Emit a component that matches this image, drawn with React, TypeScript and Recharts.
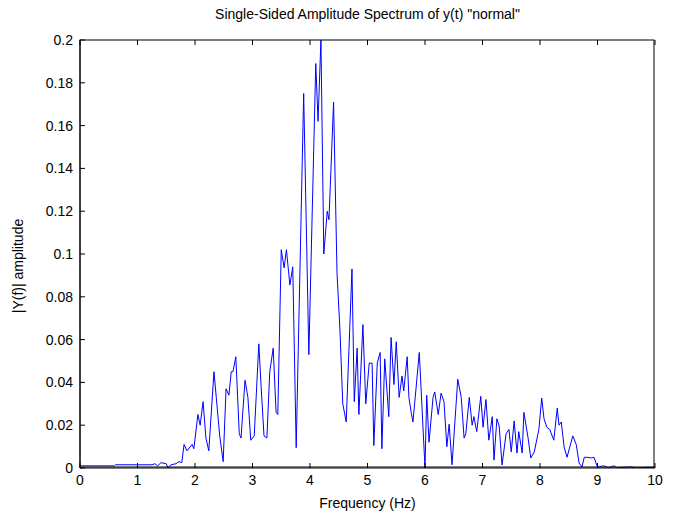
import React from 'react';
import { LineChart, Line, XAxis, YAxis } from 'recharts';

// frequency (Hz) and |Y(f)|
const freqs = [
  0, 0.6, 0.62, 1.25, 1.3, 1.35, 1.41, 1.5, 1.53, 1.58, 1.67, 1.72, 1.77, 1.81, 1.86, 1.95, 1.98,
  2.05, 2.09, 2.14, 2.19, 2.24, 2.33, 2.37, 2.43, 2.49, 2.54, 2.59, 2.63, 2.66, 2.71, 2.77, 2.8, 2.87, 2.92, 2.97,
  3.03, 3.11, 3.15, 3.2, 3.25, 3.3, 3.36, 3.41, 3.44, 3.5, 3.55, 3.59, 3.65, 3.7, 3.76, 3.89, 3.98,
  4.1, 4.14, 4.19, 4.24, 4.3, 4.33, 4.41, 4.47, 4.52, 4.57, 4.63, 4.73, 4.77, 4.82, 4.85, 4.92, 4.97,
  5.03, 5.08, 5.11, 5.17, 5.22, 5.25, 5.3, 5.37, 5.41, 5.46, 5.5, 5.55, 5.6, 5.63, 5.69, 5.72, 5.76, 5.79, 5.84, 5.9, 5.93,
  6.0, 6.03, 6.07, 6.14, 6.17, 6.23, 6.28, 6.33, 6.38, 6.42, 6.47, 6.57, 6.63, 6.68, 6.71, 6.77, 6.82, 6.85, 6.9, 6.97,
  7.01, 7.06, 7.11, 7.17, 7.2, 7.25, 7.29, 7.34, 7.41, 7.46, 7.5, 7.55, 7.6, 7.63, 7.69, 7.72, 7.79, 7.84, 7.9, 7.98,
  8.03, 8.07, 8.12, 8.17, 8.24, 8.3, 8.33, 8.37, 8.42, 8.47, 8.57, 8.63, 8.68, 8.73, 8.77, 8.83, 8.89, 8.94, 8.99,
  9.03, 9.1, 9.15, 9.18, 9.23, 9.29, 9.34, 9.44, 9.58, 9.67, 9.84, 10,
];
const amps = [
  0.001, 0.001, 0.0015, 0.0015, 0.002, 0.001, 0.0025, 0.002, 0, 0.0015, 0.002, 0.003, 0.0025, 0.011, 0.008, 0.011, 0.009,
  0.025, 0.02, 0.031, 0.014, 0.008, 0.045, 0.033, 0.015, 0.003, 0.037, 0.034, 0.045, 0.045, 0.052, 0.016, 0.014, 0.041, 0.033, 0.013,
  0.015, 0.058, 0.038, 0.015, 0.014, 0.045, 0.056, 0.026, 0.025, 0.102, 0.0935, 0.102, 0.0855, 0.094, 0.0095, 0.175, 0.053,
  0.189, 0.162, 0.2, 0.1, 0.12, 0.116, 0.171, 0.091, 0.065, 0.03, 0.0215, 0.093, 0.031, 0.056, 0.025, 0.067, 0.03,
  0.049, 0.049, 0.0105, 0.049, 0.054, 0.009, 0.051, 0.024, 0.061, 0.039, 0.059, 0.033, 0.043, 0.036, 0.052, 0.033, 0.026, 0.0215, 0.036, 0.054, 0.038,
  0, 0.034, 0.012, 0.033, 0.0355, 0.025, 0.035, 0.031, 0.01, 0.0205, 0.0015, 0.0415, 0.033, 0.014, 0.016, 0.033, 0.02, 0.024, 0.017, 0.0335,
  0.019, 0.032, 0.013, 0.024, 0.0037, 0.023, 0.0196, 0.0014, 0.016, 0.018, 0.0075, 0.022, 0.007, 0.017, 0.007, 0.026, 0.0145, 0.0047, 0.0075, 0.018,
  0.0327, 0.023, 0.019, 0.018, 0.013, 0.028, 0.02, 0.0215, 0.0098, 0.005, 0.015, 0.011, 0.0023, 0.0005, 0.005, 0.005, 0.0047, 0.005, 0.001,
  0.0005, 0.001, 0.0007, 0, 0.0005, 0.001, 0, 0.0003, 0.0005, 0, 0.0003, 0.0003,
];
const xTicks = [0, 1, 2, 3, 4, 5, 6, 7, 8, 9, 10];
const yTicks = [0, 0.02, 0.04, 0.06, 0.08, 0.1, 0.12, 0.14, 0.16, 0.18, 0.2];

const data = freqs.map((f, i) => ({ f, a: amps[i] }));
const font = 'Liberation Sans, Arial, sans-serif';
const tickStyle = { fontSize: 14, fill: '#000', fontFamily: font };
const NoLabel = () => <g />;

export default function App() {
  return (
    <div style={{ position: 'absolute', left: 0, top: 0, width: 673, height: 515, background: '#fff', fontFamily: font }}>
      <LineChart width={673} height={515} data={data} margin={{ top: 39, right: 17, bottom: 17, left: 0 }}>
        <XAxis xAxisId="b" dataKey="f" type="number" domain={[0, 10]} ticks={xTicks} orientation="bottom"
          height={30} stroke="#000" tickSize={-5} tickMargin={12} tick={tickStyle} interval={0} />
        <XAxis xAxisId="t" dataKey="f" type="number" domain={[0, 10]} ticks={xTicks} orientation="top"
          height={1} stroke="#000" axisLine={false} tickSize={-5} tick={NoLabel} interval={0} />
        <YAxis yAxisId="l" type="number" domain={[0, 0.2]} ticks={yTicks} width={80} stroke="#000"
          tickSize={-5} tickMargin={12} tick={tickStyle} allowDataOverflow interval={0} />
        <YAxis yAxisId="r" type="number" domain={[0, 0.2]} ticks={yTicks} orientation="right" width={1}
          stroke="#000" axisLine={false} tickSize={-5} tick={NoLabel} interval={0} />
        <Line xAxisId="b" yAxisId="l" dataKey="a" type="linear" stroke="#0000ff" strokeWidth={1}
          dot={false} isAnimationActive={false} />
      </LineChart>
      {/* box around the plot area */}
      <div style={{ position: 'absolute', left: 80, top: 40, width: 575, height: 428, border: '1px solid #000',
        boxSizing: 'border-box', pointerEvents: 'none', transform: 'translate(-0.5px, -0.5px)' }} />
      <div style={{ position: 'absolute', top: 6, left: 80, width: 575, textAlign: 'center', fontSize: 14 }}>
        Single-Sided Amplitude Spectrum of y(t) "normal"
      </div>
      <div style={{ position: 'absolute', top: 495, left: 80, width: 575, textAlign: 'center', fontSize: 14 }}>
        Frequency (Hz)
      </div>
      <div style={{ position: 'absolute', left: 18, top: 266, width: 0, height: 0 }}>
        <div style={{ position: 'absolute', transform: 'translate(-50%, -50%) rotate(-90deg)', whiteSpace: 'nowrap', fontSize: 14 }}>
          |Y(f)| amplitude
        </div>
      </div>
    </div>
  );
}
